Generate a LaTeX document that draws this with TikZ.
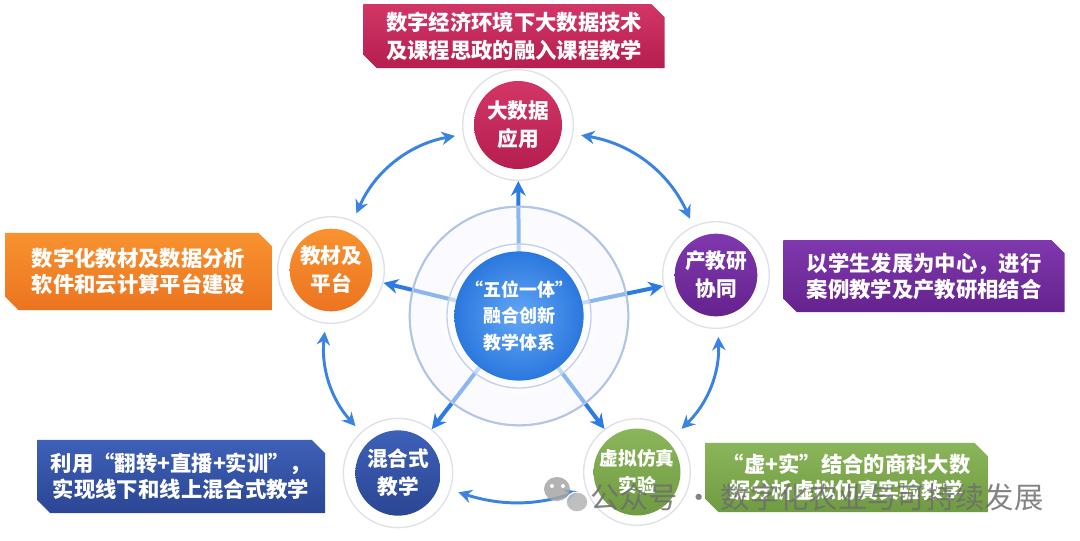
\documentclass[tikz,border=0pt]{standalone}
\usepackage{fontspec}
\newfontfamily\cjk{Noto Sans CJK SC}
\usetikzlibrary{shapes.misc,arrows.meta}
\definecolor{crimT}{HTML}{D23667}
\definecolor{crimB}{HTML}{B51E4F}
\definecolor{oraT}{HTML}{F8922F}
\definecolor{oraB}{HTML}{EC7420}
\definecolor{purT}{HTML}{8038AE}
\definecolor{purB}{HTML}{65238E}
\definecolor{navT}{HTML}{3E60B8}
\definecolor{navB}{HTML}{2B4693}
\definecolor{grnT}{HTML}{8BB55A}
\definecolor{grnB}{HTML}{6F9B42}
\definecolor{bluT}{HTML}{62A6F6}
\definecolor{bluB}{HTML}{2B78DE}
\definecolor{spokeblue}{HTML}{2C7BE5}
\definecolor{cycblue}{HTML}{3A83E2}
\definecolor{ringgray}{HTML}{DDE1E8}
\definecolor{ringblue}{HTML}{B3C5E6}
\definecolor{wm}{HTML}{6E6E6E}
\begin{document}
\begin{tikzpicture}[x=0.75pt,y=-0.75pt,
  boxt/.style={chamfered rectangle, chamfered rectangle corners={north east,south west},
    chamfered rectangle sep=5pt, inner sep=0pt, text=white, align=center,
    font=\cjk\bfseries\fontsize{16}{19.5}\selectfont},
  disc/.style={circle, inner sep=0pt, text=white, align=center,
    font=\cjk\bfseries\fontsize{15.5}{21}\selectfont},
  ring/.style={circle, draw=ringgray, line width=1pt, fill=white, inner sep=0pt, minimum size=#1},
  spoke/.style={draw=spokeblue, line width=3pt, -{Stealth[length=11pt,width=11pt]}},
  cyc/.style={draw=cycblue, line width=2.2pt,
    {Stealth[length=10pt,width=10pt]}-{Stealth[length=10pt,width=10pt]},
    shorten <=6pt, shorten >=6pt},
]
\useasboundingbox[fill=white] (0,0) rectangle (1080,540);

% rings around outer nodes
\node[ring=83pt] (tr) at (518,125) {};
\node[ring=80pt] (lr) at (331,270) {};
\node[ring=80pt] (rr) at (716,275) {};
\node[ring=82pt] (blr) at (398,473) {};
\node[ring=80pt] (brr) at (637,472) {};

% centre
\node[circle, minimum size=164pt, inner sep=0pt, inner color=white, outer color=blue!3, draw=ringblue, line width=1.3pt] (co) at (519,316) {};
\draw[spoke] (co.center) -- (tr);
\draw[spoke] (co.center) -- (lr);
\draw[spoke] (co.center) -- (rr);
\draw[spoke] (co.center) -- (blr);
\draw[spoke] (co.center) -- (brr);
\node[circle, minimum size=164pt, inner sep=0pt, fill=white, fill opacity=0.45, draw=ringblue, line width=1.5pt] (co2) at (co) {};
\node[circle, minimum size=108pt, inner sep=0pt, fill=white, fill opacity=0.5, draw=ringblue!80, line width=1pt] (ci) at (co) {};
\node[disc, minimum size=84pt, inner color=bluT, outer color=bluB,
  font=\cjk\bfseries\fontsize{13.5}{20}\selectfont] (c) at (co) {“五位一体”\\融合创新\\教学体系};

% outer discs
\node[disc, minimum size=66pt, top color=crimT, bottom color=crimB] (t) at (tr) {大数据\\应用};
\node[disc, minimum size=62pt, top color=oraT, bottom color=oraB] (l) at (lr) {教材及\\平台};
\node[disc, minimum size=62pt, top color=purT, bottom color=purB] (r) at (rr) {产教研\\协同};
\node[disc, minimum size=64pt, top color=navT, bottom color=navB] (bl) at (blr) {混合式\\教学};
\node[disc, minimum size=62pt, top color=grnT, bottom color=grnB, font=\cjk\bfseries\fontsize{14}{20}\selectfont] (br) at (brr) {虚拟仿真\\实验};

% cycle arrows
\draw[cyc] (tr) to[bend right=28] (lr);
\draw[cyc] (tr) to[bend left=28] (rr);
\draw[cyc] (lr) to[bend right=24] (blr);
\draw[cyc] (rr) to[bend left=24] (brr);
\draw[cyc] (blr) to[bend right=18] (brr);

% boxes
\node[boxt, minimum width=226pt, minimum height=48pt, top color=crimT, bottom color=crimB,
  font=\cjk\bfseries\fontsize{16}{21}\selectfont] (b1) at (514,36)
  {数字经济环境下大数据技术\\及课程思政的融入课程教学};
\node[boxt, minimum width=200pt, minimum height=58pt, top color=oraT, bottom color=oraB] (b2) at (138.5,271.5)
  {数字化教材及数据分析\\软件和云计算平台建设};
\node[boxt, minimum width=211pt, minimum height=54pt, top color=purT, bottom color=purB] (b3) at (924,276)
  {以学生发展为中心，进行\\案例教学及产教研相结合};
\node[boxt, minimum width=216pt, minimum height=55pt, top color=navT, bottom color=navB] (b4) at (181,476.5)
  {利用“翻转+直播+实训”，\\实现线下和线上混合式教学};
\node[boxt, minimum width=212pt, minimum height=52pt, top color=grnT, bottom color=grnB] (b5) at (846.5,477.5)
  {“虚+实”结合的商科大数\\据分析虚拟仿真实验教学};

% watermark
\fill[gray!70, opacity=0.85] (557,489) ellipse (13 and 12);
\fill[white] (552,486) circle (2);
\fill[white] (563,486) circle (2);
\fill[gray!55, opacity=0.9, draw=white, line width=1pt] (577,502) ellipse (11 and 10);
\node[anchor=west, inner sep=0pt, text=wm, text opacity=0.85,
  font=\cjk\fontsize{22}{22}\selectfont] (wmk) at (590,497) {公众号 · 数字化农业与可持续发展};
\end{tikzpicture}
\end{document}
